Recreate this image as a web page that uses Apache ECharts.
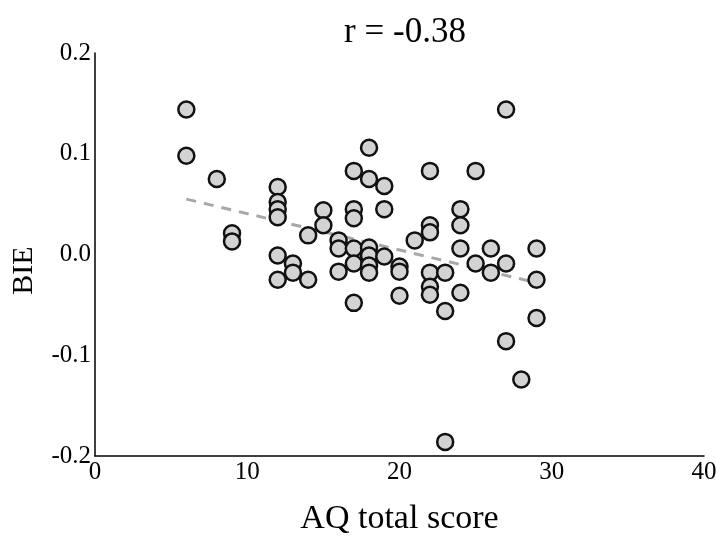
<!DOCTYPE html>
<html lang="en">
	<head>
		<meta charset="UTF-8">
		<title>BIE vs AQ</title>
	</head>

	<body style="margin:0;background:#fff;">
		<div id="main" style="width: 716px;height:540px;"></div>

		<script type="text/javascript" src="https://cdn.jsdelivr.net/npm/echarts@6/dist/echarts.min.js"></script>
		<script type="text/javascript">
			// AQ total score of each participant
			var aqScores = [
				6, 6, 8, 9, 9,
				12, 12, 12, 12, 12, 12,
				13, 13, 14, 14, 15, 15,
				16, 16, 16,
				17, 17, 17, 17, 17, 17,
				18, 18, 18, 18, 18, 18,
				19, 19, 19, 20, 20, 20, 21,
				22, 22, 22, 22, 22, 22,
				23, 23, 23, 24, 24, 24, 24,
				25, 25, 26, 26, 27, 27, 27, 28, 29, 29, 29
			];
			// BIE of each participant (same order)
			var bieValues = [
				0.144, 0.098, 0.075, 0.021, 0.013,
				0.067, 0.052, 0.045, 0.037, -0.001, -0.025,
				-0.009, -0.018, 0.019, -0.025, 0.044, 0.029,
				0.014, 0.006, -0.017,
				0.083, 0.045, 0.036, 0.006, -0.009, -0.048,
				0.106, 0.075, 0.007, -0.001, -0.011, -0.018,
				0.068, 0.045, -0.002, -0.012, -0.017, -0.041, 0.014,
				0.083, 0.029, 0.022, -0.018, -0.032, -0.040,
				-0.018, -0.056, -0.186, 0.045, 0.029, 0.006, -0.038,
				0.083, -0.009, 0.006, -0.018, 0.144, -0.009, -0.086, -0.124, 0.006, -0.025, -0.063
			];
			// dashed fit line ends (x, y)
			var fitX = [6, 29];
			var fitY = [0.055, -0.028];
			var titleText = 'r = -0.38';

			var points = aqScores.map(function (x, i) { return [x, bieValues[i]]; });
			var fitLine = fitX.map(function (x, i) { return [x, fitY[i]]; });

			var serif = 'Liberation Serif';
			var myChart = echarts.init(document.getElementById('main'));

			var option = {
				backgroundColor: '#fff',
				animation: false,
				title: {
					text: titleText,
					left: 400,
					textAlign: 'center',
					top: 10,
					textStyle: { fontFamily: serif, fontSize: 35, fontWeight: 'normal', color: '#000' }
				},
				grid: { left: 95, right: 12, top: 53, bottom: 84, outerBoundsMode: 'none' },
				xAxis: {
					type: 'value',
					min: 0, max: 40, interval: 10,
					name: 'AQ total score',
					nameLocation: 'middle',
					nameGap: 46,
					nameTextStyle: { fontFamily: serif, fontSize: 34, color: '#000' },
					axisLine: { onZero: false, lineStyle: { color: '#000', width: 1.5 } },
					axisTick: { show: false },
					splitLine: { show: false },
					axisLabel: { fontFamily: serif, fontSize: 25, color: '#000', margin: 4 }
				},
				yAxis: {
					type: 'value',
					min: -0.2, max: 0.2, interval: 0.1,
					name: 'BIE',
					nameLocation: 'middle',
					nameGap: 56,
					// right padding pushes the rotated label a bit below centre, as in the original
					nameTextStyle: { fontFamily: serif, fontSize: 30, color: '#000', padding: [0, 32, 0, 0] },
					axisLine: { show: true, onZero: false, lineStyle: { color: '#000', width: 1.5 } },
					axisTick: { show: false },
					splitLine: { show: false },
					axisLabel: {
						fontFamily: serif, fontSize: 25, color: '#000', margin: 4,
						formatter: function (v) { return v.toFixed(1); }
					}
				},
				series: [
					{
						type: 'line',
						data: fitLine,
						symbol: 'none',
						z: 1,
						lineStyle: { color: '#a8a8a8', width: 3, type: [10, 8] }
					},
					{
						type: 'scatter',
						data: points,
						symbol: 'circle',
						symbolSize: 16,
						z: 2,
						itemStyle: { color: '#d3d3d3', borderColor: '#111', borderWidth: 2.5, opacity: 1 }
					}
				]
			};

			myChart.setOption(option);
		</script>
	</body>
</html>
